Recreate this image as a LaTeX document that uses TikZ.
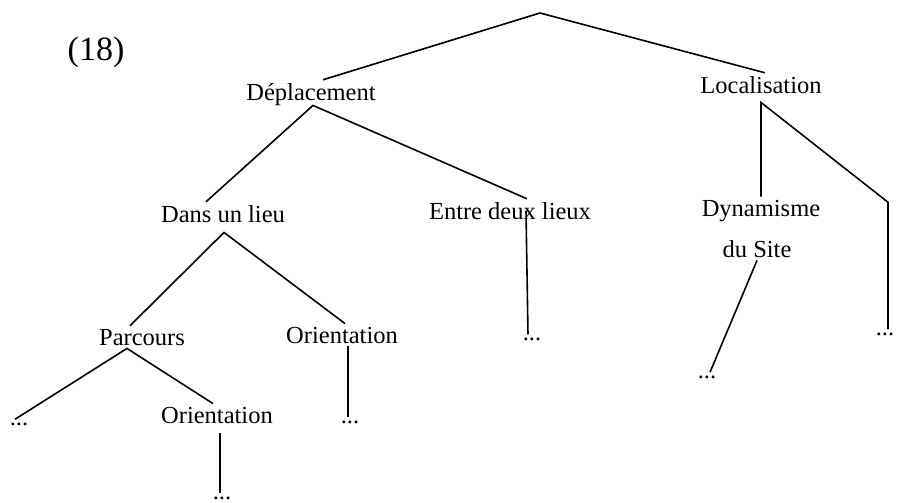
\documentclass[tikz,border=0pt]{standalone}
\usepackage{fontspec}
\setmainfont{Liberation Serif}
\usepackage{tikz}
\tikzstyle{word} = [inner sep=3pt, anchor=base,
    font=\fontsize{24.5}{29}\selectfont]
\tikzstyle{branch} = [draw, line width=1.6pt]

\begin{document}
\begin{tikzpicture}[x=1pt, y=-1pt]
\useasboundingbox (0,0) rectangle (897,503);
\node [word, font=\fontsize{34}{40}\selectfont] at (96,60) (num) {(18)};
\coordinate (top) at (540,13);

\node [word] at (311,100) (dep) {Déplacement};
\node [word] at (761,93) (loc) {Localisation};
\node [word] at (223,222) (dans) {Dans un lieu};
\node [word] at (510,219) (entre) {Entre deux lieux};
\node [word] at (761,216) (dyn) {Dynamisme};
\node [word] at (757,257) (site) {du Site};
\node [word] at (142,345) (parc) {Parcours};
\node [word] at (342,343) (orient) {Orientation};
\node [word] at (217,423) (orientb) {Orientation};

\node [word] at (19,425) (ldots) {...};
\node [word] at (350,423) (odots) {...};
\node [word] at (532,340) (edots) {...};
\node [word] at (707,378) (sdots) {...};
\node [word] at (885,335) (rdots) {...};
\node [word] at (222,499) (bdots) {...};

\draw [branch] ([xshift=12pt] dep.north) -- (top) -- ([xshift=4pt] loc.north);

\draw [branch] ([xshift=-17pt] dans.north) -- ([xshift=2pt, yshift=3pt] dep.south)
    -- ([xshift=17pt] entre.north);
\draw [branch] ([xshift=16pt] entre.center) -- ([xshift=-4pt] edots.north);

\draw [branch] (dyn.north) -- ([yshift=-6pt] loc.south)
    -- ([xshift=3pt, yshift=127pt] rdots.north) -- ([xshift=3pt] rdots.north);
\draw [branch] (site.south) -- ([xshift=3pt] sdots.north);

\draw [branch] ([xshift=-12pt] parc.north) -- ([xshift=1pt, yshift=-7pt] dans.south)
    -- ([xshift=3pt] orient.north);
\draw [branch] ([xshift=6pt] orient.south) -- ([xshift=-2pt] odots.north);

\draw [branch] ([xshift=-4pt] ldots.north) -- ([xshift=-15pt] parc.south)
    -- ([xshift=-4pt] orientb.north);
\draw [branch] ([xshift=3pt, yshift=-7pt] orientb.south) -- ([xshift=-2pt] bdots.north);
\end{tikzpicture}
\end{document}
